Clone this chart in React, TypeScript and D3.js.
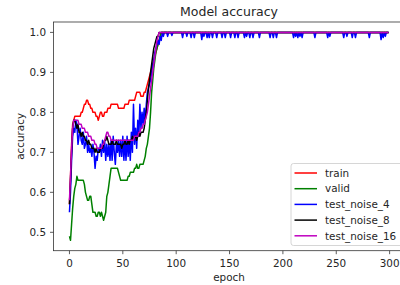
import * as d3 from 'd3';

// accuracy per epoch (epoch 0 onward, plateau at 1.0 afterwards)
const trainAcc = [
  0.57, 0.64, 0.72, 0.77, 0.78, 0.79, 0.79, 0.79, 0.79, 0.79,
  0.79, 0.80, 0.80, 0.81, 0.82, 0.82, 0.83, 0.83, 0.82, 0.82,
  0.81, 0.81, 0.80, 0.80, 0.80, 0.79, 0.79, 0.78, 0.79, 0.80,
  0.80, 0.79, 0.79, 0.80, 0.80, 0.80, 0.81, 0.81, 0.81, 0.82,
  0.82, 0.82, 0.82, 0.82, 0.82, 0.82, 0.81, 0.81, 0.81, 0.81,
  0.81, 0.81, 0.82, 0.82, 0.82, 0.82, 0.83, 0.83, 0.83, 0.83,
  0.83, 0.83, 0.84, 0.85, 0.85, 0.85, 0.85, 0.84, 0.84, 0.84,
  0.85, 0.85, 0.86, 0.87, 0.88, 0.89, 0.90, 0.91, 0.92, 0.93,
  0.94, 0.95, 0.96, 0.97, 0.98, 0.99, 1.0,
];

const validAcc = [
  0.49, 0.48, 0.52, 0.56, 0.59, 0.61, 0.62, 0.64, 0.63, 0.63,
  0.63, 0.63, 0.63, 0.63, 0.62, 0.60, 0.59, 0.58, 0.58, 0.59,
  0.59, 0.57, 0.55, 0.55, 0.55, 0.54, 0.54, 0.55, 0.55, 0.54,
  0.55, 0.54, 0.53, 0.54, 0.55, 0.59, 0.60, 0.62, 0.64, 0.66,
  0.66, 0.66, 0.66, 0.66, 0.66, 0.66, 0.65, 0.64, 0.63, 0.63,
  0.63, 0.63, 0.63, 0.63, 0.63, 0.64, 0.64, 0.65, 0.65, 0.65,
  0.65, 0.66, 0.66, 0.67, 0.66, 0.66, 0.67, 0.67, 0.67, 0.67,
  0.68, 0.69, 0.71, 0.72, 0.74, 0.76, 0.80, 0.85, 0.88, 0.91,
  0.93, 0.95, 0.96, 0.97, 0.98, 0.99, 1.0,
];

const noise4Acc = [
  0.55, 0.60, 0.68, 0.74, 0.76, 0.75, 0.78, 0.77, 0.72, 0.74,
  0.76, 0.73, 0.72, 0.75, 0.71, 0.72, 0.74, 0.70, 0.72, 0.70,
  0.71, 0.69, 0.72, 0.70, 0.66, 0.69, 0.68, 0.71, 0.70, 0.72,
  0.69, 0.73, 0.70, 0.73, 0.68, 0.72, 0.69, 0.72, 0.68, 0.73,
  0.68, 0.74, 0.70, 0.67, 0.72, 0.70, 0.73, 0.69, 0.73, 0.69,
  0.74, 0.68, 0.73, 0.68, 0.74, 0.69, 0.73, 0.68, 0.75, 0.70,
  0.82, 0.72, 0.76, 0.71, 0.78, 0.74, 0.82, 0.76, 0.80, 0.77,
  0.81, 0.78, 0.82, 0.85, 0.86, 0.87, 0.88, 0.90, 0.92, 0.93,
  0.95, 0.96, 0.97, 0.98, 0.97, 0.99, 0.98, 1.0, 0.99, 1.0,
];

// short dips of test_noise_4 below 1.0 after convergence: [epoch, accuracy]
const noise4Dips: [number, number][] = [
  [92, 0.99], [96, 0.992], [106, 0.987], [110, 0.99], [114, 0.987], [117, 0.987],
  [124, 0.982], [126, 0.99], [129, 0.987], [131, 0.987], [134, 0.987], [138, 0.987],
  [143, 0.987], [146, 0.987], [151, 0.987], [155, 0.987], [158, 0.987], [164, 0.987],
  [166, 0.99], [169, 0.987], [172, 0.987], [178, 0.987], [188, 0.987], [191, 0.987],
  [194, 0.987], [210, 0.987], [212, 0.99], [214, 0.987], [216, 0.99], [218, 0.987],
  [230, 0.987], [242, 0.987], [244, 0.99], [257, 0.987], [260, 0.99], [265, 0.987],
  [268, 0.987], [281, 0.987], [292, 0.982], [294, 0.987], [296, 0.99],
];

const noise8Acc = [
  0.57, 0.63, 0.70, 0.76, 0.78, 0.78, 0.77, 0.76, 0.77, 0.75,
  0.75, 0.74, 0.75, 0.74, 0.74, 0.73, 0.73, 0.72, 0.73, 0.72,
  0.72, 0.71, 0.71, 0.71, 0.70, 0.71, 0.70, 0.70, 0.70, 0.71,
  0.71, 0.71, 0.72, 0.73, 0.73, 0.74, 0.73, 0.72, 0.72, 0.72,
  0.73, 0.72, 0.72, 0.72, 0.73, 0.72, 0.72, 0.72, 0.72, 0.71,
  0.72, 0.72, 0.73, 0.72, 0.72, 0.73, 0.72, 0.73, 0.73, 0.74,
  0.73, 0.74, 0.74, 0.73, 0.74, 0.75, 0.74, 0.75, 0.75, 0.75,
  0.76, 0.78, 0.80, 0.83, 0.86, 0.88, 0.90, 0.92, 0.94, 0.96,
  0.97, 0.98, 0.99, 0.99, 1.0,
];

const noise16Acc = [
  0.58, 0.64, 0.71, 0.76, 0.78, 0.78, 0.78, 0.78, 0.78, 0.77,
  0.77, 0.77, 0.76, 0.76, 0.76, 0.75, 0.75, 0.75, 0.74, 0.74,
  0.74, 0.73, 0.73, 0.73, 0.72, 0.72, 0.71, 0.71, 0.71, 0.71,
  0.71, 0.72, 0.72, 0.73, 0.74, 0.75, 0.75, 0.74, 0.74, 0.73,
  0.73, 0.73, 0.73, 0.73, 0.73, 0.73, 0.73, 0.73, 0.73, 0.73,
  0.73, 0.73, 0.73, 0.73, 0.73, 0.73, 0.73, 0.73, 0.73, 0.73,
  0.73, 0.74, 0.74, 0.74, 0.74, 0.75, 0.75, 0.76, 0.76, 0.77,
  0.77, 0.78, 0.79, 0.80, 0.82, 0.84, 0.86, 0.88, 0.90, 0.92,
  0.94, 0.96, 0.98, 0.99, 1.0,
];

const lastEpoch = 299;
const xTicks = [0, 50, 100, 150, 200, 250, 300];
const yTicks = [0.5, 0.6, 0.7, 0.8, 0.9, 1.0];

type Pt = [number, number];

const withPlateau = (vals: number[]): Pt[] => {
  const pts: Pt[] = vals.map((v, i) => [i, v]);
  pts.push([lastEpoch, 1.0]);
  return pts;
};

const noise4Points = (): Pt[] => {
  const pts: Pt[] = noise4Acc.map((v, i) => [i, v]);
  const tail: Pt[] = [];
  noise4Dips.forEach(([e, v]) => {
    tail.push([e - 1, 1.0], [e, v], [e + 1, 1.0]);
  });
  tail.sort((a, b) => a[0] - b[0]);
  return pts.concat(tail, [[lastEpoch, 1.0]]);
};

const series = [
  { name: 'train', color: '#ff0000', points: withPlateau(trainAcc) },
  { name: 'valid', color: '#008000', points: withPlateau(validAcc) },
  { name: 'test_noise_4', color: '#0000ff', points: noise4Points() },
  { name: 'test_noise_8', color: '#000000', points: withPlateau(noise8Acc) },
  { name: 'test_noise_16', color: '#bf00bf', points: withPlateau(noise16Acc) },
];

const W = 400;
const H = 285;
const left = 53.5;
const right = 404.5;
const top = 22;
const bottom = 250.7;
const font = 'DejaVu Sans, sans-serif';

export default function App() {
  const x = d3.scaleLinear().domain([-14.95, 313.95]).range([left, right]);
  const y = d3.scaleLinear().domain([0.454, 1.026]).range([bottom, top]);
  const line = d3.line<Pt>().x(d => x(d[0])).y(d => y(d[1]));

  const lgX = 291;
  const lgY = 163.5;
  const lgRow = 15.7;

  return (
    <svg width={W} height={H} style={{ position: 'absolute', left: 0, top: 0, background: '#fff' }}
      fontFamily={font}>
      <rect x={0} y={0} width={W} height={H} fill="#fff" />
      <defs>
        <clipPath id="plot">
          <rect x={left} y={top} width={right - left} height={bottom - top} />
        </clipPath>
      </defs>

      <g clipPath="url(#plot)">
        {series.map(s => (
          <path key={s.name} d={line(s.points) || ''} fill="none" stroke={s.color}
            strokeWidth={1.5} strokeLinejoin="round" />
        ))}
      </g>

      {/* frame */}
      <rect x={left} y={top} width={right - left} height={bottom - top} fill="none"
        stroke="#333" strokeWidth={0.8} />

      {/* x axis */}
      {xTicks.map(t => (
        <g key={t} transform={`translate(${x(t)},${bottom})`}>
          <line y2={3.5} stroke="#333" strokeWidth={0.8} />
          <text y={16} textAnchor="middle" fontSize={10.4} fill="#262626">{t}</text>
        </g>
      ))}
      <text x={(left + right) / 2} y={280.5} textAnchor="middle" fontSize={10.4} fill="#262626">epoch</text>

      {/* y axis */}
      {yTicks.map(t => (
        <g key={t} transform={`translate(${left},${y(t)})`}>
          <line x2={-3.5} stroke="#333" strokeWidth={0.8} />
          <text x={-7.5} dy="0.36em" textAnchor="end" fontSize={10.4} fill="#262626">{t.toFixed(1)}</text>
        </g>
      ))}
      <text transform={`translate(24,${(top + bottom) / 2}) rotate(-90)`} textAnchor="middle"
        fontSize={10.4} fill="#262626">accuracy</text>

      <text x={(left + right) / 2} y={16} textAnchor="middle" fontSize={12.5} fill="#262626">Model accuracy</text>

      {/* legend */}
      <rect x={lgX} y={lgY} width={112} height={82} rx={2.5} fill="#fff" fillOpacity={0.8}
        stroke="#cccccc" strokeWidth={0.8} />
      {series.map((s, i) => (
        <g key={s.name} transform={`translate(${lgX},${lgY + 9.5 + i * lgRow})`}>
          <line x1={3.5} x2={26} stroke={s.color} strokeWidth={1.5} />
          <text x={34} dy="0.36em" fontSize={10.4} fill="#262626">{s.name}</text>
        </g>
      ))}
    </svg>
  );
}
